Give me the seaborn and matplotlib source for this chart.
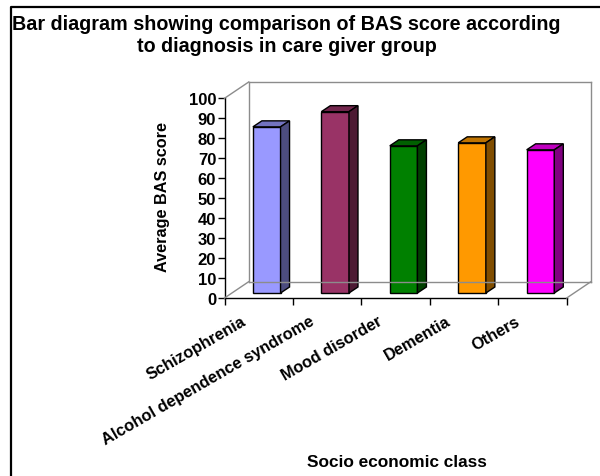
import matplotlib
matplotlib.use("Agg")
import matplotlib.pyplot as plt
import seaborn as sns
import pandas as pd
from matplotlib.colors import to_rgb
from matplotlib.lines import Line2D
from matplotlib.patches import Polygon
from matplotlib.transforms import Affine2D, IdentityTransform

title_lines = ["Bar diagram showing comparison of BAS score according",
               "to diagnosis in care giver group"]
xlabel = "Socio economic class"
ylabel = "Average BAS score"
diagnoses = ["Schizophrenia", "Alcohol dependence syndrome", "Mood disorder", "Dementia", "Others"]
scores = [83.2, 90.8, 73.7, 75.2, 71.7]
colors = ["#9999FF", "#993366", "#008000", "#FF9900", "#FF00FF"]
yticks = list(range(0, 101, 10))

W, H = 600, 477
sns.set_theme(style="white")
plt.rcParams["font.family"] = ["Liberation Sans", "DejaVu Sans"]
plt.rcParams["font.weight"] = "bold"

fig = plt.figure(figsize=(W / 100, H / 100), dpi=100, facecolor="white")
L, R, T, B = 224.5, 566.7, 99.3, 299.0
ax = fig.add_axes([L / W, 1 - B / H, (R - L) / W, (B - T) / H])
ax.patch.set_alpha(0)

df = pd.DataFrame({"diagnosis": diagnoses, "score": scores})
sns.barplot(data=df, x="diagnosis", y="score", hue="diagnosis", palette=colors,
            width=0.404, legend=False, ax=ax, saturation=1, zorder=3)
ax.set_xlim(-0.5, 4.5)
ax.set_ylim(0, 100)

# pseudo-3D geometry (display pixels)
depth_x, depth_y = 24.2, 16.3      # wall depth
bar_dx, bar_dy = 8.0, 5.0          # bar front face offset from the axis
bar_depth_x, bar_depth_y = 9.0, 6.0

wall = dict(color="#8c8c8c", lw=1.0, transform=IdentityTransform(), zorder=1, solid_capstyle="projecting")
def px(x, y):
    return x, H - y
for (x0, y0), (x1, y1) in [((L, T), (L + depth_x, T - depth_y)),
                           ((L, B), (L + depth_x, B - depth_y)),
                           ((R, B), (R + depth_x, B - depth_y)),
                           ((L + depth_x, T - depth_y), (R + depth_x, T - depth_y)),
                           ((L + depth_x, B - depth_y), (R + depth_x, B - depth_y)),
                           ((L + depth_x, T - depth_y), (L + depth_x, B - depth_y)),
                           ((R + depth_x, T - depth_y), (R + depth_x, B - depth_y))]:
    fig.add_artist(Line2D(*zip(px(x0, y0), px(x1, y1)), **wall))

shift = Affine2D().translate(bar_dx, bar_dy)
for bar, col in zip(ax.patches, colors):
    bar.set_transform(ax.transData + shift)
    bar.set_edgecolor("black")
    bar.set_linewidth(1.0)
    (x0, y0), (x1, y1) = (ax.transData + shift).transform(
        [(bar.get_x(), bar.get_y()), (bar.get_x() + bar.get_width(), bar.get_y() + bar.get_height())])
    rgb = to_rgb(col)
    top_col = tuple(c * 0.75 for c in rgb)
    side_col = tuple(c * 0.5 for c in rgb)
    dx, dy = bar_depth_x, bar_depth_y
    ax.add_patch(Polygon([(x0, y1), (x1, y1), (x1 + dx, y1 + dy), (x0 + dx, y1 + dy)], closed=True,
                         transform=IdentityTransform(), fc=top_col, ec="black", lw=1.0, zorder=3))
    ax.add_patch(Polygon([(x1, y0), (x1 + dx, y0 + dy), (x1 + dx, y1 + dy), (x1, y1)], closed=True,
                         transform=IdentityTransform(), fc=side_col, ec="black", lw=1.0, zorder=3))

for s in ("top", "right"):
    ax.spines[s].set_visible(False)
for s in ("left", "bottom"):
    ax.spines[s].set_color("black")
    ax.spines[s].set_linewidth(1.0)

ax.set_yticks(yticks)
ax.set_yticklabels([str(v) for v in yticks], fontsize=12, fontweight="bold", color="black")
ax.tick_params(axis="y", length=5, width=1, pad=1, color="black", left=True)

ax.set_xticks([i - 0.5 for i in range(6)])
ax.set_xticklabels([""] * 6)
ax.tick_params(axis="x", length=5, width=1, color="black", bottom=True)
ax.set_xlabel("")
ax.set_ylabel("")
for i, name in enumerate(diagnoses):
    ax.annotate(name, xy=(i, 0), xycoords=("data", "axes fraction"), xytext=(-18, -15),
                textcoords="offset pixels", rotation=30, rotation_mode="anchor",
                ha="right", va="top", fontsize=11.8, fontweight="bold", color="black", annotation_clip=False)

fig.text(163 / W, 1 - 197 / H, ylabel, rotation=90, ha="center", va="center", fontsize=11.7, fontweight="bold", color="black")
fig.text(396.5 / W, 1 - 463 / H, xlabel, ha="center", va="center", fontsize=12.4, fontweight="bold", color="black")
fig.text(286 / W, 1 - 24 / H, title_lines[0], ha="center", va="center", fontsize=14.2, fontweight="bold", color="black")
fig.text(287 / W, 1 - 47 / H, title_lines[1], ha="center", va="center", fontsize=14.2, fontweight="bold", color="black")

# outer frame
fig.add_artist(Line2D([10.5 / W, 10.5 / W, 1], [0, 1 - 7.5 / H, 1 - 7.5 / H], color="black", lw=1.6, transform=fig.transFigure))

fig.savefig("out.png", dpi=100, facecolor="white")
